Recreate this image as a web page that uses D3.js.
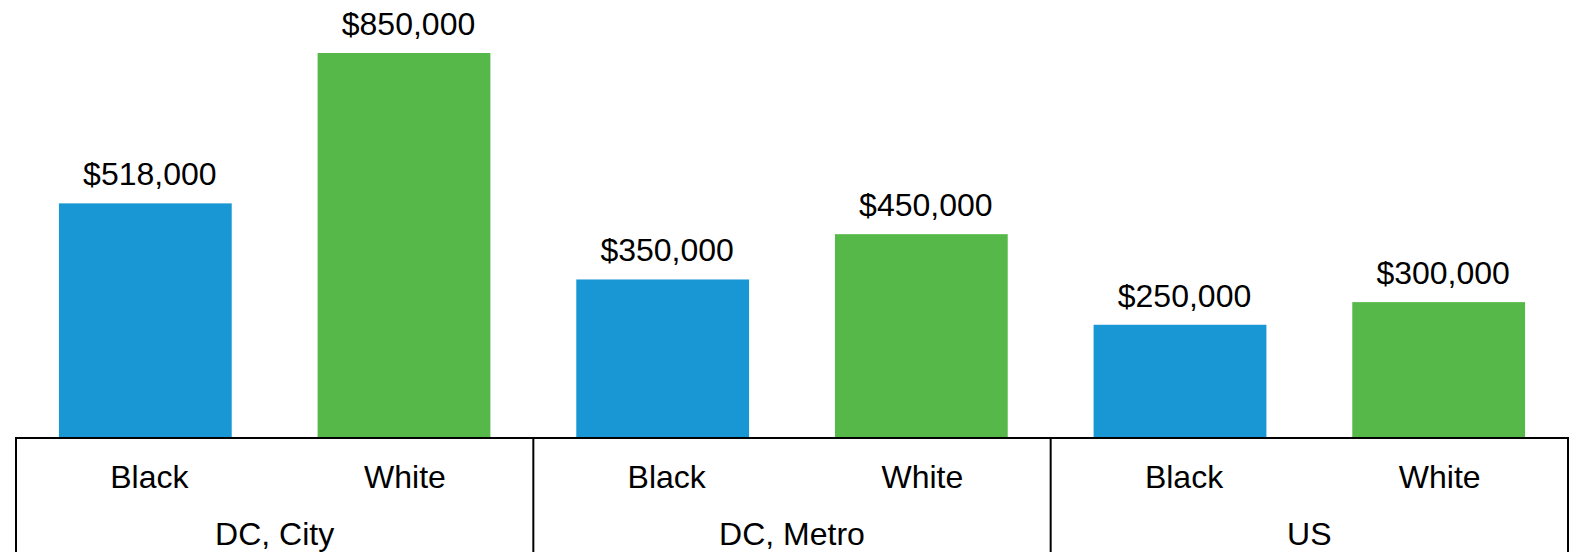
<!DOCTYPE html>
<html>
<head>
<meta charset="utf-8">
<script src="https://cdn.jsdelivr.net/npm/d3@7"></script>
<style>
  html, body { margin: 0; padding: 0; background: #fff; }
  svg text { font-family: "Liberation Sans", Arial, sans-serif; fill: #000; }
</style>
</head>
<body>
<svg id="chart" width="1571" height="552"></svg>
<script>
// Median household wealth by race, grouped by geography
const groups = ["DC, City", "DC, Metro", "US"];
const races = ["Black", "White"];
const blackValues = [518000, 350000, 250000];
const whiteValues = [850000, 450000, 300000];
const raceColors = ["#1997d4", "#57b84a"];

const rows = groups.flatMap((g, i) => [
  { group: g, race: races[0], value: blackValues[i] },
  { group: g, race: races[1], value: whiteValues[i] }
]);

const svg = d3.select("#chart");
const W = 1571, H = 552;
const left = 16, right = 1568, baseY = 438, topY = 53;

const x0 = d3.scaleBand().domain(groups).range([left, right]).padding(0);
const x1 = d3.scaleBand().domain(races).range([0, x0.bandwidth()]).paddingInner(0.332).paddingOuter(0.166);
const y = d3.scaleLinear().domain([0, d3.max(whiteValues)]).range([baseY, topY]);
const color = d3.scaleOrdinal().domain(races).range(raceColors);
const fmt = d3.format("$,");
const barCenter = d => x0(d.group) + x1(d.race) + x1.bandwidth() / 2;
// small horizontal nudge for the category text under each bar
const raceLabelDx = { Black: 4, White: 1 };

// bars
svg.append("g").selectAll("rect").data(rows).join("rect")
  .attr("x", d => x0(d.group) + x1(d.race))
  .attr("y", d => y(d.value))
  .attr("width", x1.bandwidth())
  .attr("height", d => y(0) - y(d.value))
  .attr("fill", d => color(d.race));

// value labels
svg.append("g").selectAll("text").data(rows).join("text")
  .attr("x", barCenter)
  .attr("dx", 4.5)
  .attr("y", d => y(d.value) - 18)
  .attr("text-anchor", "middle")
  .attr("font-size", 32)
  .text(d => fmt(d.value));

// category axis: baseline, group dividers, and two label tiers
const axis = svg.append("g");
axis.append("line")
  .attr("x1", left).attr("x2", right)
  .attr("y1", baseY).attr("y2", baseY)
  .attr("stroke", "#000").attr("stroke-width", 2);

const dividers = groups.map(g => x0(g)).concat([x0.range()[1]]);
axis.selectAll("line.div").data(dividers).join("line")
  .attr("class", "div")
  .attr("x1", d => d).attr("x2", d => d)
  .attr("y1", baseY - 1).attr("y2", H)
  .attr("stroke", "#000").attr("stroke-width", 2);

axis.selectAll("text.race").data(rows).join("text")
  .attr("class", "race")
  .attr("x", barCenter)
  .attr("dx", d => raceLabelDx[d.race])
  .attr("y", 488)
  .attr("text-anchor", "middle")
  .attr("font-size", 32)
  .text(d => d.race);

axis.selectAll("text.group").data(groups).join("text")
  .attr("class", "group")
  .attr("x", d => x0(d) + x0.bandwidth() / 2)
  .attr("y", 545)
  .attr("text-anchor", "middle")
  .attr("font-size", 32)
  .text(d => d);
</script>
</body>
</html>
